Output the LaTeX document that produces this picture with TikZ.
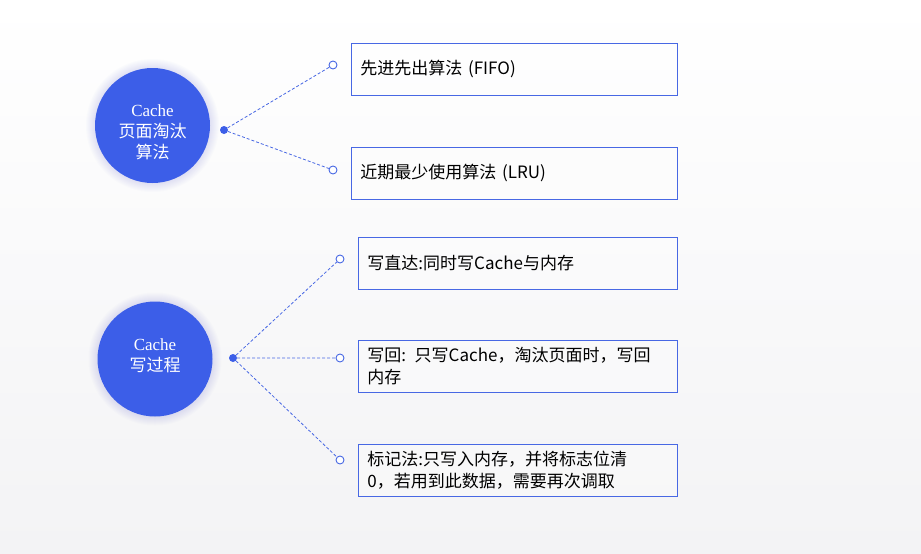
\documentclass[tikz,border=0pt]{standalone}
\usepackage{fontspec}
\usepackage{xcolor}
\setmainfont{Noto Sans CJK SC}
\newfontfamily\latinserif{Liberation Serif}
\definecolor{mainblue}{RGB}{60,94,232}
\definecolor{lineblue}{RGB}{72,104,228}
\definecolor{bgbottom}{RGB}{243,243,245}
\tikzstyle{topic}=[circle, fill=mainblue, minimum size=115pt, inner sep=0pt]
\tikzstyle{topictext}=[text=white, align=center, inner sep=0pt, font=\fontsize{17}{21}\selectfont]
\tikzstyle{dot}=[circle, fill=mainblue, inner sep=0pt, minimum size=8pt]
\tikzstyle{ring}=[circle, draw=lineblue, line width=0.9pt, fill=white, inner sep=0pt, minimum size=8pt]
\tikzstyle{leaf}=[draw=lineblue, line width=0.9pt, fill=white, fill opacity=0.3, text opacity=1, anchor=north west, inner xsep=9pt, inner ysep=0pt, minimum height=52pt, align=left, font=\fontsize{17}{22}\selectfont]
\tikzstyle{link}=[lineblue, line width=0.8pt, dash pattern=on 3pt off 2pt]
\newcommand{\ring}{\node[ring]}

\begin{document}
\begin{tikzpicture}[x=1pt,y=-1pt]
\shade[top color=white, bottom color=bgbottom] (0,0) rectangle (921,554);
\useasboundingbox (0,0) rectangle (921,554);
% soft glow round the two circles
\foreach \c in {(152.5,125.5),(155,359)}{
	\foreach \r in {1,...,9}{
		\fill[mainblue, opacity=0.015] \c circle ({57.5+\r});
	}
}
\node[topic] (replace) at (152.5,125.5) {};
\node[topic] (write) at (155,359) {};
\node[topictext] at ([yshift=-7pt]replace.center) {{\latinserif Cache}\\页面淘汰\\算法};
\node[topictext] at ([yshift=3pt]write.center) {{\latinserif Cache}\\写过程};
\node[dot] (d1) at (224,130) {};
\node[dot] (d2) at (233,358) {};
\ring (r1) at (333,65) {};
\ring (r2) at (333,170) {};
\ring (r3) at (340,259) {};
\ring (r4) at (340,358) {};
\ring (r5) at (340,460) {};
\node[leaf, minimum width=326pt, text width=308pt] (fifo) at (351,43) {先进先出算法 (FIFO)};
\node[leaf, minimum width=326pt, text width=308pt] (lru) at (351,147) {近期最少使用算法 (LRU)};
\node[leaf, minimum width=319pt, text width=301pt] (through) at (358,237) {写直达:同时写Cache与内存};
\node[leaf, minimum width=319pt, text width=301pt] (back) at (358,340) {写回: 只写Cache，淘汰页面时，写回\\内存};
\node[leaf, minimum width=319pt, text width=301pt] (flag) at (358,444) {标记法:只写入内存，并将标志位清\\0，若用到此数据，需要再次调取};
\draw[link] (d1) -- (r1) (d1) -- (r2);
\draw[link] (d2) -- (r3) (d2) -- (r4) (d2) -- (r5);
\end{tikzpicture}
\end{document}
